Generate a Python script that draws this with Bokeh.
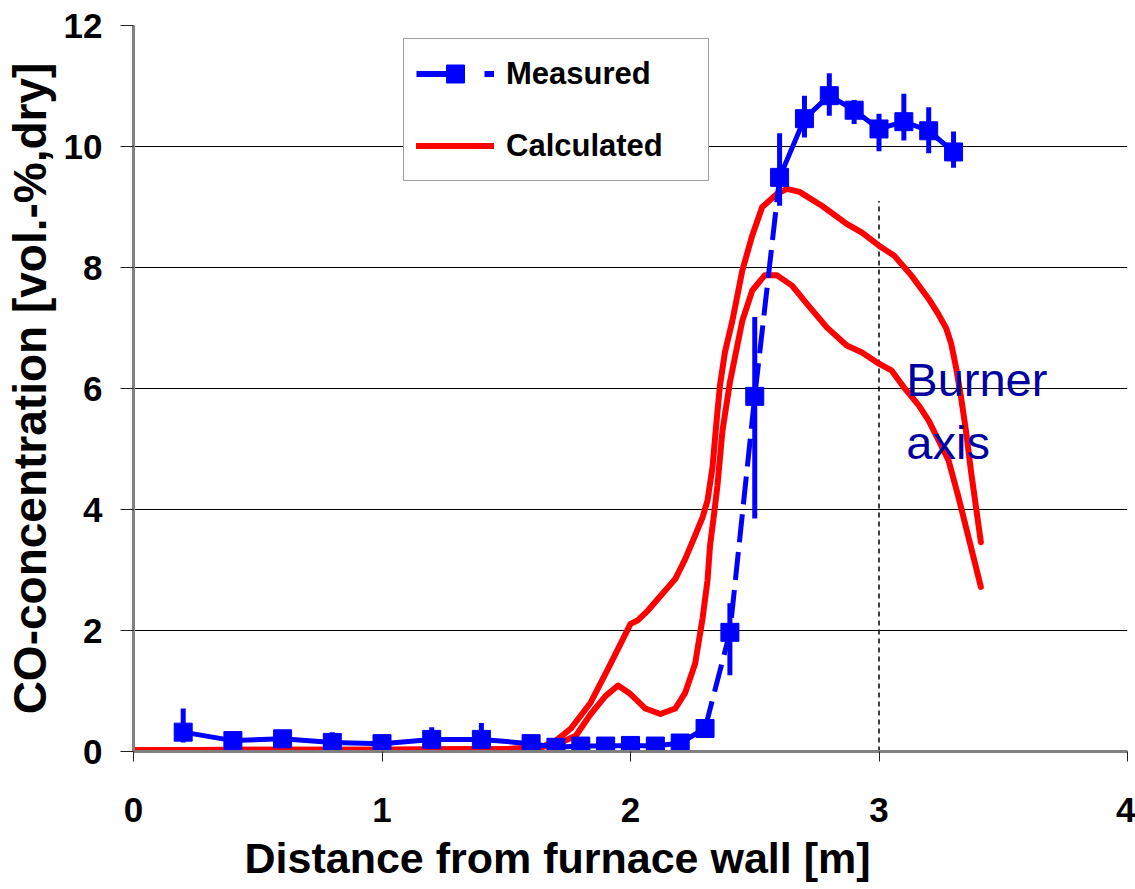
from bokeh.plotting import figure
from bokeh.models import Legend, LegendItem, Label, Title, FixedTicker, Range1d
from bokeh.embed import file_html
from bokeh.resources import INLINE

# ---------------- data ----------------
meas_x = [0.2, 0.4, 0.6, 0.8, 1.0, 1.2, 1.4, 1.6, 1.7, 1.8, 1.9, 2.0, 2.1, 2.2, 2.3,
          2.4, 2.5, 2.6, 2.7, 2.8, 2.9, 3.0, 3.1, 3.2, 3.3]
meas_y = [0.32, 0.18, 0.21, 0.15, 0.13, 0.20, 0.20, 0.13, 0.07, 0.09, 0.09, 0.10, 0.09, 0.14, 0.38,
          1.97, 5.87, 9.49, 10.46, 10.84, 10.60, 10.29, 10.41, 10.26, 9.91]
meas_lo = [0.15, 0.12, 0.15, 0.08, 0.08, 0.12, 0.12, 0.08, 0.04, 0.05, 0.05, 0.06, 0.05, 0.09, 0.30,
           1.26, 3.85, 9.02, 10.15, 10.51, 10.37, 9.92, 10.10, 9.89, 9.65]
meas_hi = [0.71, 0.24, 0.26, 0.32, 0.18, 0.40, 0.47, 0.18, 0.12, 0.13, 0.13, 0.14, 0.13, 0.19, 0.45,
           2.45, 7.18, 10.22, 10.84, 11.21, 10.77, 10.54, 10.87, 10.65, 10.25]

calc1_x = [0.0, 0.5, 1.0, 1.5, 1.64, 1.70, 1.76, 1.84, 1.91, 1.96, 2.00, 2.03, 2.07, 2.11, 2.18,
           2.22, 2.26, 2.29, 2.31, 2.33, 2.345, 2.36, 2.38, 2.41, 2.45, 2.49, 2.53, 2.59, 2.63, 2.68,
           2.77, 2.87, 2.93, 3.00, 3.06, 3.13, 3.20, 3.24, 3.27, 3.29, 3.31, 3.33, 3.35, 3.37, 3.41]
calc1_y = [0.02, 0.03, 0.03, 0.04, 0.07, 0.18, 0.38, 0.81, 1.37, 1.78, 2.11, 2.17, 2.33, 2.52, 2.85,
           3.18, 3.57, 3.87, 4.15, 4.70, 5.40, 6.05, 6.60, 7.12, 7.95, 8.53, 9.00, 9.22, 9.30, 9.25,
           9.02, 8.72, 8.58, 8.36, 8.20, 7.87, 7.48, 7.22, 7.00, 6.75, 6.35, 5.86, 5.30, 4.64, 3.46]

calc2_x = [0.0, 0.5, 1.0, 1.5, 1.64, 1.72, 1.78, 1.84, 1.90, 1.95, 2.00, 2.06, 2.12, 2.18, 2.22,
           2.26, 2.29, 2.31, 2.32, 2.34, 2.35, 2.37, 2.40, 2.45, 2.49, 2.54, 2.59, 2.65, 2.71,
           2.79, 2.87, 2.93, 3.00, 3.05, 3.10, 3.16, 3.20, 3.24, 3.28, 3.32, 3.37, 3.41]
calc2_y = [0.02, 0.03, 0.03, 0.04, 0.07, 0.15, 0.26, 0.62, 0.92, 1.09, 0.95, 0.71, 0.62, 0.71, 0.97,
           1.45, 2.20, 2.83, 3.40, 4.05, 4.40, 5.30, 6.10, 7.12, 7.62, 7.87, 7.87, 7.70, 7.40,
           7.01, 6.71, 6.60, 6.41, 6.30, 6.02, 5.72, 5.47, 5.14, 4.81, 4.20, 3.38, 2.72]

x_ticks = [0, 1, 2, 3, 4]
y_ticks = [0, 2, 4, 6, 8, 10, 12]
x_label = "Distance from furnace wall [m]"
y_label = "CO-concentration [vol.-%,dry]"
burner_x = 3.0
burner_top = 9.1
burner_text = ["Burner", "axis"]
burner_text_x = 3.11
burner_text_y = [6.15, 5.11]

# dashed part of the measured curve: between these indices
dash_start, dash_end = 14, 17

FONT = "Liberation Sans"
BLUE = "#0000FF"
RED = "#FF0000"

p = figure(width=1135, height=889, output_backend="svg", toolbar_location=None,
           x_range=Range1d(0, 4), y_range=Range1d(0, 12),
           min_border_left=131, min_border_right=8, min_border_top=25, min_border_bottom=138)
p.outline_line_color = None
p.background_fill_color = "white"
p.border_fill_color = "white"

# axes
for ax in (p.xaxis[0], p.yaxis[0]):
    ax.axis_line_color = "#808080"
    ax.axis_line_width = 3
    ax.major_tick_line_color = "#222222"
    ax.major_tick_line_width = 1
    ax.major_tick_in = 0
    ax.minor_tick_line_color = None
    ax.major_label_text_font = FONT
    ax.major_label_text_font_style = "bold"
    ax.major_label_text_font_size = "35px"
    ax.major_label_text_color = "black"

p.xaxis.ticker = FixedTicker(ticks=x_ticks)
p.yaxis.ticker = FixedTicker(ticks=y_ticks)
p.xaxis.major_tick_out = 10
p.yaxis.major_tick_out = 13
p.xaxis.major_label_standoff = 36
p.yaxis.major_label_standoff = 18

p.yaxis.axis_label = y_label
p.yaxis.axis_label_text_font = FONT
p.yaxis.axis_label_text_font_style = "bold"
p.yaxis.axis_label_text_font_size = "46px"
p.yaxis.axis_label_text_color = "black"
p.yaxis.axis_label_standoff = 5

xtitle = Title(text=x_label, align="left", offset=111,
               text_font=FONT, text_font_style="bold", text_font_size="43px",
               text_color="black", standoff=15)
p.add_layout(xtitle, "below")

# grid
p.xgrid.grid_line_color = None
p.ygrid.ticker = FixedTicker(ticks=y_ticks)
p.ygrid.grid_line_color = "black"
p.ygrid.grid_line_width = 1

# burner axis
p.segment(x0=[burner_x], y0=[0], x1=[burner_x], y1=[burner_top],
          line_color="black", line_width=1.5, line_dash="5 4")
for t, ty in zip(burner_text, burner_text_y):
    p.add_layout(Label(x=burner_text_x, y=ty, text=t, text_font=FONT,
                       text_font_size="47px", text_color="#0000A0",
                       text_baseline="alphabetic"))

# calculated
r_c1 = p.line(calc1_x, calc1_y, line_color=RED, line_width=6, line_join="round", line_cap="round")
p.line(calc2_x, calc2_y, line_color=RED, line_width=6, line_join="round", line_cap="round")

# measured
p.segment(x0=meas_x, y0=meas_lo, x1=meas_x, y1=meas_hi, line_color=BLUE, line_width=5)
p.line(meas_x[:dash_start + 1], meas_y[:dash_start + 1], line_color=BLUE, line_width=5)
p.line(meas_x[dash_start:dash_end + 1], meas_y[dash_start:dash_end + 1], line_color=BLUE,
       line_width=5, line_dash="28 10")
p.line(meas_x[dash_end:], meas_y[dash_end:], line_color=BLUE, line_width=5)
p.scatter(meas_x, meas_y, marker="square", size=18, fill_color=BLUE, line_color=BLUE)

# legend helpers (outside visible range)
leg_line = p.line([-10, -9], [-10, -10], line_color=BLUE, line_width=6, line_dash="48 20")
leg_sq = p.scatter([-10], [-10], marker="square", size=18, fill_color=BLUE, line_color=BLUE)

legend = Legend(items=[LegendItem(label="Measured", renderers=[leg_line, leg_sq]),
                       LegendItem(label="Calculated", renderers=[r_c1])],
                location=(270, 570))
legend.label_text_font = FONT
legend.label_text_font_style = "bold"
legend.label_text_font_size = "31px"
legend.label_text_color = "black"
legend.glyph_width = 78
legend.glyph_height = 45
legend.label_height = 45
legend.label_standoff = 12
legend.label_width = 190
legend.padding = 12
legend.spacing = 27
legend.margin = 0
legend.border_line_color = "#404040"
legend.border_line_width = 1.5
legend.background_fill_color = "white"
legend.background_fill_alpha = 1.0
p.add_layout(legend)

open("out.html", "w").write(file_html(p, INLINE))
